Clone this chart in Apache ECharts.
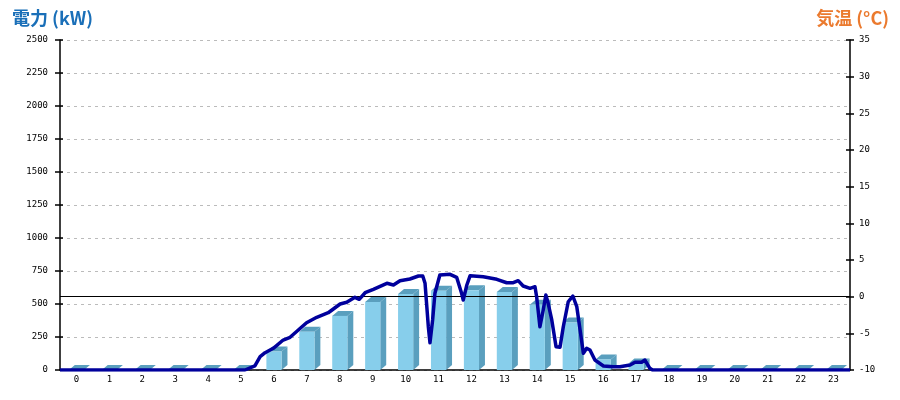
<!DOCTYPE html>
<html><head><meta charset="utf-8">
<script src="https://cdn.jsdelivr.net/npm/echarts@6/dist/echarts.min.js"></script>
<style>html,body{margin:0;padding:0;background:#fff}#c{width:900px;height:400px}</style>
</head><body><div id="c"></div>
<script>
var hours = ['0','1','2','3','4','5','6','7','8','9','10','11','12','13','14','15','16','17','18','19','20','21','22','23'];
var powerKW = [0,0,0,0,0,0,140,290,410,515,575,600,605,590,495,360,80,50,0,0,0,0,0,0];
var tempTime = [0,5.47,5.62,5.92,6.08,6.23,6.48,6.78,6.99,7.24,7.49,7.80,8.15,8.51,8.71,8.96,9.09,9.27,9.52,9.93,10.13,10.33,10.63,10.89,11.02,11.09,11.19,11.24,11.32,11.39,11.54,11.85,12.05,12.20,12.25,12.36,12.46,12.86,13.27,13.57,13.77,13.92,14.07,14.28,14.43,14.48,14.58,14.68,14.76,14.83,14.94,15.07,15.19,15.29,15.44,15.58,15.70,15.80,15.90,16.00,16.10,16.25,16.51,16.81,17.01,17.32,17.47,17.67,17.77,17.92,18.0,24];
var tempValue = [-10,-10,-10,-9.45,-8.19,-7.64,-7.04,-5.91,-5.54,-4.55,-3.55,-2.81,-2.19,-1.0,-0.77,-0.09,-0.36,0.54,1.0,1.82,1.59,2.18,2.41,2.82,2.82,1.82,-4.1,-6.28,-3.18,0.46,2.95,3.05,2.64,0.46,-0.45,1.59,2.86,2.72,2.37,1.9,1.9,2.18,1.45,1.14,1.36,0.0,-4.1,-1.82,0.23,-0.9,-3.18,-6.82,-6.9,-4.1,-0.69,0.09,-1.37,-4.55,-7.72,-7.04,-7.27,-8.64,-9.45,-9.55,-9.55,-9.32,-8.95,-8.95,-8.64,-9.77,-10,-10];
var leftTitle = '電力 (kW)';
var rightTitle = '気温 (°C)';

var chart = echarts.init(document.getElementById('c'));
var front = '#87CEEB', side = '#5A9FBE', topc = '#5A9FBE';
var lblFont = {fontFamily:'DejaVu Sans Mono', fontSize:9, color:'#000', formatter:function(v){return String(v);}};
var tempData = tempTime.map(function(t,i){return [t, tempValue[i]];});
chart.setOption({
  animation:false,
  grid:{left:60,right:50,top:40,bottom:30},
  title:[
    {text:leftTitle,left:7,top:4,textStyle:{fontFamily:'Noto Sans CJK JP',fontWeight:'bold',fontSize:18,color:'#1A6FB8'}},
    {text:rightTitle,right:6,top:4,textStyle:{fontFamily:'Noto Sans CJK JP',fontWeight:'bold',fontSize:18,color:'#EB7A2E'}}
  ],
  xAxis:[
    {type:'category',data:hours,boundaryGap:true,axisLine:{lineStyle:{color:'#000',width:1.5}},axisTick:{show:false},
     axisLabel:{margin:5,fontFamily:'DejaVu Sans Mono',fontSize:9,color:'#000'},splitLine:{show:false}},
    {type:'value',min:0,max:24,show:false}
  ],
  yAxis:[
    {type:'value',min:0,max:2500,interval:250,position:'left',
     axisLine:{show:true,lineStyle:{color:'#000',width:1.5}},axisTick:{show:true,length:5,lineStyle:{color:'#000',width:1.5}},
     axisLabel:Object.assign({margin:12},lblFont),
     splitLine:{show:true,lineStyle:{color:'#bbb',type:[3,4],width:1}}},
    {type:'value',min:-10,max:35,interval:5,position:'right',
     axisLine:{show:true,lineStyle:{color:'#000',width:1.5}},axisTick:{show:true,length:4,lineStyle:{color:'#000',width:1.5}},
     axisLabel:Object.assign({margin:9},lblFont),splitLine:{show:false}},
    {type:'value',min:0,max:2500,interval:250,position:'left',axisLine:{show:false},
     axisTick:{show:true,inside:true,length:3,lineStyle:{color:'#000',width:1.5}},axisLabel:{show:false},splitLine:{show:false}},
    {type:'value',min:-10,max:35,interval:5,position:'right',axisLine:{show:false},
     axisTick:{show:true,inside:true,length:4,lineStyle:{color:'#000',width:1.5}},axisLabel:{show:false},splitLine:{show:false}}
  ],
  series:[
    {type:'custom',xAxisIndex:0,yAxisIndex:0,z:2,
     data:powerKW.map(function(v,i){return [i,v];}),
     encode:{x:0,y:1},
     renderItem:function(params,api){
       var i=api.value(0), v=api.value(1);
       var b=api.coord([i,0]), t=api.coord([i,v]);
       var bw=api.size([1,0])[0];
       var w=bw*0.46, dx=bw*0.18, dy=5;
       var x0=b[0]-w/2, x1=b[0]+w/2, yb=b[1], yt=t[1];
       return {type:'group',children:[
         {type:'polygon',shape:{points:[[x1,yb],[x1+dx,yb-dy],[x1+dx,yt-dy],[x1,yt]]},style:{fill:side}},
         {type:'polygon',shape:{points:[[x0,yt],[x1,yt],[x1+dx,yt-dy],[x0+dx,yt-dy]]},style:{fill:topc}},
         {type:'rect',shape:{x:x0,y:yt,width:w,height:Math.max(0,yb-yt)},style:{fill:front}}
       ]};
     }},
    {type:'line',xAxisIndex:1,yAxisIndex:1,z:5,data:tempData,showSymbol:false,smooth:false,
     lineStyle:{color:'#00009C',width:3.5,join:'round'},
     markLine:{silent:true,symbol:['none','none'],label:{show:false},
       lineStyle:{color:'#000',type:'solid',width:1},data:[{yAxis:0}]}}
  ]
});
</script></body></html>
